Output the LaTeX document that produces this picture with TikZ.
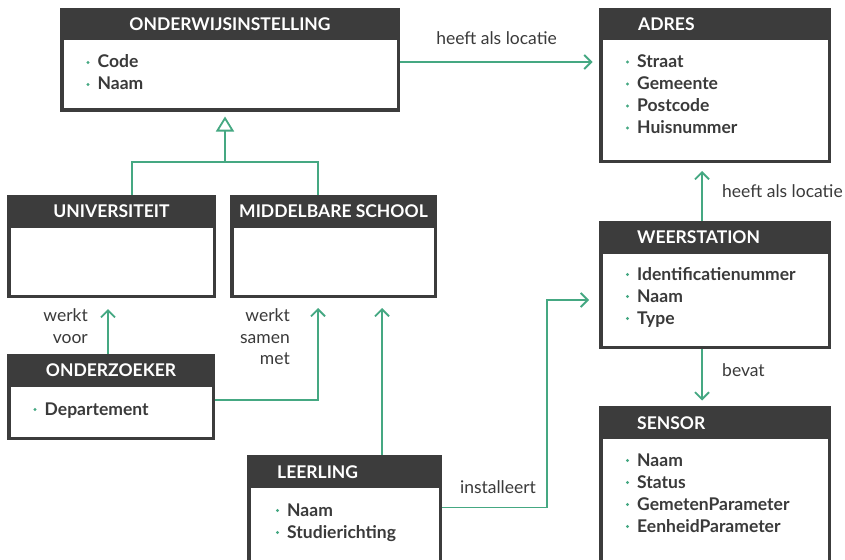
\documentclass[tikz,border=0pt]{standalone}
\usepackage{fontspec}
\setmainfont{Lato}
\usetikzlibrary{arrows.meta,positioning}

\definecolor{donker}{HTML}{3C3C3C}
\definecolor{groen}{HTML}{45A882}
\definecolor{tekst}{HTML}{3A3A3A}

\begin{document}
\begin{tikzpicture}[x=1pt, y=-1pt,
    box/.style={fill=donker, anchor=north west, inner sep=0pt, outer sep=0pt},
    body/.style={fill=white, anchor=north west, inner sep=0pt, outer sep=0pt},
    titel/.style={text=white, font=\bfseries\fontsize{17.5}{21}\selectfont, inner sep=0pt},
    attr/.style={text=tekst, font=\bfseries\fontsize{17.5}{21}\selectfont, anchor=base west, inner sep=0pt},
    lbl/.style={text=tekst, font=\fontsize{17.5}{21.5}\selectfont, inner sep=0pt},
    lijn/.style={draw=groen, line width=1.8pt},
    pijl/.style={lijn, -{Straight Barb[length=7pt,width=14pt]}},
]
    \path[use as bounding box, fill=white] (0,0) rectangle (845,559);

    % Onderwijsinstelling
    \node[box, minimum width=340pt, minimum height=104pt] (oi) at (60,8) {};
    \node[body, minimum width=333pt, minimum height=68pt] (oi-b) at ([xshift=3.5pt,yshift=-32.5pt]oi.north west) {};
    \node[titel, anchor=base] (oi-t) at (230,30.5) {ONDERWIJSINSTELLING};
    \foreach \t [count=\i from 0] in {Code, Naam} {
        \node[attr] (oi-\i) at (97.5,68+22*\i) {\t};
        \fill[groen] ([xshift=-9.5pt,yshift=5.5pt]oi-\i.base west) circle (1.6pt);
    }

    % Adres
    \node[box, minimum width=232pt, minimum height=155pt] (adres) at (599,8) {};
    \node[body, minimum width=225pt, minimum height=119pt] (adres-b) at ([xshift=3.5pt,yshift=-32.5pt]adres.north west) {};
    \node[titel, anchor=base west] (adres-t) at (638,30.5) {ADRES};
    \foreach \t [count=\i from 0] in {Straat, Gemeente, Postcode, Huisnummer} {
        \node[attr] (adres-\i) at (637,67.5+22*\i) {\t};
        \fill[groen] ([xshift=-9.5pt,yshift=5.5pt]adres-\i.base west) circle (1.6pt);
    }

    % Universiteit
    \node[box, minimum width=209pt, minimum height=103pt] (univ) at (7,195) {};
    \node[body, minimum width=202pt, minimum height=67pt] (univ-b) at ([xshift=3.5pt,yshift=-32.5pt]univ.north west) {};
    \node[titel, anchor=base] (univ-t) at (111.5,217) {UNIVERSITEIT};

    % Middelbare school
    \node[box, minimum width=207pt, minimum height=103pt] (mbs) at (230,195) {};
    \node[body, minimum width=200pt, minimum height=67pt] (mbs-b) at ([xshift=3.5pt,yshift=-32.5pt]mbs.north west) {};
    \node[titel, anchor=base] (mbs-t) at (333.5,217) {MIDDELBARE SCHOOL};

    % Weerstation
    \node[box, minimum width=232pt, minimum height=128pt] (ws) at (599,221) {};
    \node[body, minimum width=225pt, minimum height=92pt] (ws-b) at ([xshift=3.5pt,yshift=-32.5pt]ws.north west) {};
    \node[titel, anchor=base west] (ws-t) at (637,243.5) {WEERSTATION};
    \foreach \t [count=\i from 0] in {Identificatienummer, Naam, Type} {
        \node[attr] (ws-\i) at (637,280+22*\i) {\t};
        \fill[groen] ([xshift=-9.5pt,yshift=5.5pt]ws-\i.base west) circle (1.6pt);
    }

    % Sensor
    \node[box, minimum width=232pt, minimum height=160pt] (sensor) at (599,406) {};
    \node[body, minimum width=225pt, minimum height=124pt] (sensor-b) at ([xshift=3.5pt,yshift=-32.5pt]sensor.north west) {};
    \node[titel, anchor=base west] (sensor-t) at (637,429) {SENSOR};
    \foreach \t [count=\i from 0] in {Naam, Status, GemetenParameter, EenheidParameter} {
        \node[attr] (sensor-\i) at (637,466+22*\i) {\t};
        \fill[groen] ([xshift=-9.5pt,yshift=5.5pt]sensor-\i.base west) circle (1.6pt);
    }

    % Onderzoeker
    \node[box, minimum width=208pt, minimum height=86pt] (ond) at (7,354) {};
    \node[body, minimum width=201pt, minimum height=50pt] (ond-b) at ([xshift=3.5pt,yshift=-32.5pt]ond.north west) {};
    \node[titel, anchor=base] (ond-t) at (111,376.5) {ONDERZOEKER};
    \node[attr] (ond-0) at (44.5,415) {Departement};
    \fill[groen] ([xshift=-9.5pt,yshift=5.5pt]ond-0.base west) circle (1.6pt);

    % Leerling
    \node[box, minimum width=195pt, minimum height=110pt] (leer) at (247,455) {};
    \node[body, minimum width=188pt, minimum height=74pt] (leer-b) at ([xshift=3.5pt,yshift=-32.5pt]leer.north west) {};
    \node[titel, anchor=base west] (leer-t) at (277,478.5) {LEERLING};
    \foreach \t [count=\i from 0] in {Naam, Studierichting} {
        \node[attr] (leer-\i) at (287,516+22*\i) {\t};
        \fill[groen] ([xshift=-9.5pt,yshift=5.5pt]leer-\i.base west) circle (1.6pt);
    }

    % Generalisatie
    \coordinate (erf) at (225,162);
    \draw[lijn] ([xshift=20.5pt]univ.north) |- (erf) -| ([xshift=-15.5pt]mbs.north);
    \draw[lijn, -{Triangle[open, fill=white, length=15pt, width=18pt]}, shorten >=4.5pt] (erf) -- (erf |- oi.south);

    % Associaties
    \coordinate (oi-uit) at ([yshift=-2pt]oi.east);
    \draw[pijl, shorten >=6.5pt] (oi-uit) -- (oi-uit -| adres.west);
    \node[lbl, anchor=base] (l-locatie) at (496.5,45) {heeft als locatie};

    \coordinate (voor) at ([xshift=-3pt]ond.north);
    \draw[pijl, shorten >=11pt] (voor) -- (voor |- univ.south);
    \node[lbl, align=right, anchor=north east] (l-voor) at (88,308.5) {werkt\\voor};

    \coordinate (samen) at ([yshift=-3pt]ond.east);
    \draw[pijl, shorten >=10pt] (samen) -| ([xshift=-15.5pt]mbs.south);
    \node[lbl, align=right, anchor=north east] (l-samen) at (290,308.5) {werkt\\samen\\met};

    \coordinate (leer-op) at ([xshift=37.5pt]leer.north);
    \draw[pijl, shorten >=10pt] (leer-op) -- (leer-op |- mbs.south);

    \coordinate (inst) at ([yshift=2.5pt]leer.east);
    \coordinate (knik) at (547,300);
    \draw[pijl, shorten >=10pt] (inst) -| (knik) -- (knik -| ws.west);
    \node[lbl, anchor=base] (l-inst) at (498,493) {installeert};

    \coordinate (ws-op) at ([xshift=-13pt]ws.north);
    \draw[pijl, shorten >=8pt] (ws-op) -- (ws-op |- adres.south);
    \node[lbl, anchor=base west] (l-locatie2) at (722,197) {heeft als locatie};

    \coordinate (ws-neer) at ([xshift=-13pt]ws.south);
    \draw[pijl, shorten >=5.5pt] (ws-neer) -- (ws-neer |- sensor.north);
    \node[lbl, anchor=base west] (l-bevat) at (722,376.5) {bevat};
\end{tikzpicture}
\end{document}
